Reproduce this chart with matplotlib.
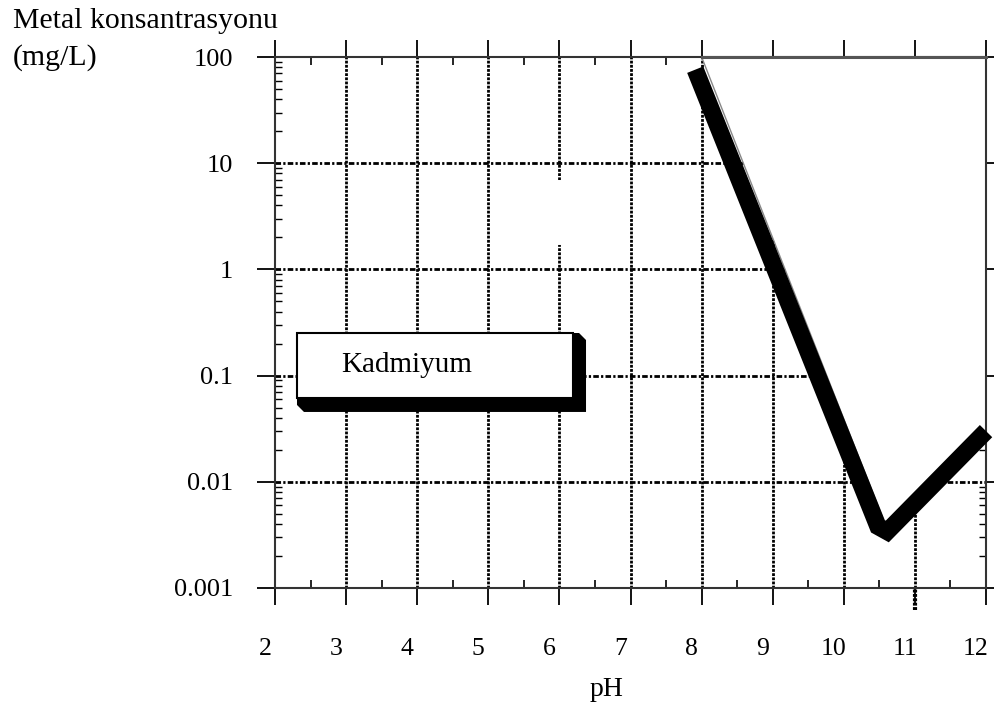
import matplotlib
matplotlib.use("Agg")
import matplotlib.pyplot as plt
import numpy as np
from matplotlib.patches import Polygon, Rectangle
from matplotlib.ticker import LogLocator, NullFormatter
from matplotlib.transforms import ScaledTranslation, blended_transform_factory

# axis ticks
ph_ticks = [2, 3, 4, 5, 6, 7, 8, 9, 10, 11, 12]
conc_ticks = [0.001, 0.01, 0.1, 1, 10, 100]
conc_labels = ["0.001", "0.01", "0.1", "1", "10", "100"]

# cadmium curve
cd_ph = [7.91, 10.48, 10.61, 12.0]
cd_conc = [76, 0.0038, 0.0034, 0.030]

# blank (white) region above the curve
region_ph = [8.0, 10.58, 12.0, 12.0]
region_conc = [100, 0.0040, 0.030, 100]

plt.rcParams['font.family'] = ['Liberation Serif', 'DejaVu Serif']

fig = plt.figure(figsize=(9.95, 7.09), dpi=100)
ax = fig.add_axes([0.2764, 0.1707, 0.7146, 0.7489])
ax.set_yscale('log')
ax.set_xlim(2, 12)
ax.set_ylim(0.001, 100)

# grid: dotted verticals, dash-dot horizontals
for ph in ph_ticks[1:-1]:
    ax.axvline(ph, color='black', lw=2.0, dashes=(1.0, 0.5), zorder=1)
for c in conc_ticks[1:-1]:
    ax.axhline(c, color='black', lw=2.0, dashes=(2.0, 0.8, 0.8, 0.8), zorder=1)
# gap in the pH 6 gridline and the pH 11 one running below the axis
ax.plot([6, 6], [10**0.27, 10**0.81], color='white', lw=5, zorder=1.2)
bt = blended_transform_factory(ax.transData, ax.transAxes)
ax.plot([11, 11], [-0.042, 0.0], transform=bt, clip_on=False,
        color='black', lw=3, dashes=(0.7, 0.35), zorder=1)

region = Polygon(np.column_stack([region_ph, region_conc]), closed=True,
                 facecolor='white', edgecolor='#888888', lw=1.0, zorder=2)
ax.add_patch(region)
# heavier grey edge along the top of the blank region
ax.plot([region_ph[0], region_ph[-1]], [region_conc[0], region_conc[-1]],
        color='#555555', lw=2.2, zorder=2.6, clip_on=False)

ax.plot(cd_ph, cd_conc, color='black', lw=12.5, solid_capstyle='butt',
        solid_joinstyle='miter', zorder=3, clip_on=False)

# "Kadmiyum" box with a black drop shadow
shadow = Polygon([(0.0309, 0.3578), (0.0309, 0.3447), (0.0407, 0.3315),
                  (0.4374, 0.3315), (0.4374, 0.4670), (0.4276, 0.4802),
                  (0.419, 0.4802)], closed=True, transform=ax.transAxes,
                 facecolor='black', edgecolor='black', lw=0, zorder=4)
ax.add_patch(shadow)
ax.add_patch(Rectangle((0.0309, 0.3578), 0.3881, 0.1224, transform=ax.transAxes,
                       facecolor='white', edgecolor='black', lw=1.5, zorder=5))
ax.text(0.0928, 0.4068, "Kadmiyum", transform=ax.transAxes, fontsize=21,
        ha='left', va='baseline', zorder=6)

# ticks
ax.set_xticks(ph_ticks)
ax.set_xticklabels([str(p) for p in ph_ticks])
ax.set_xticks(np.arange(2.5, 12, 1), minor=True)
ax.tick_params(axis='x', which='major', direction='out', length=12, width=1.3,
               top=True, bottom=True, pad=24, labelsize=18.5)
ax.tick_params(axis='x', which='minor', direction='in', length=6, width=1.2,
               top=True, bottom=True)
ax.set_yticks(conc_ticks)
ax.set_yticklabels(conc_labels)
ax.yaxis.set_minor_locator(LogLocator(base=10, subs=np.arange(2, 10)))
ax.yaxis.set_minor_formatter(NullFormatter())
ax.tick_params(axis='y', which='major', direction='out', length=13, width=1.3,
               left=True, right=True, pad=17, labelsize=19)
ax.tick_params(axis='y', which='minor', direction='in', length=5, width=1,
               left=True, right=True)

shift = ScaledTranslation(-0.1, 0, fig.dpi_scale_trans)
for lbl in ax.get_xticklabels():
    lbl.set_transform(lbl.get_transform() + shift)

for sp in ax.spines.values():
    sp.set_color('#333333')
    sp.set_linewidth(1.5)

ax.set_xlabel("pH", fontsize=20)
ax.xaxis.set_label_coords(0.466, -0.192)
ax.xaxis.label.set_va('center')

fig.text(13 / 995, 1 - 28 / 709, "Metal konsantrasyonu", fontsize=21.5,
         ha='left', va='baseline')
fig.text(13 / 995, 1 - 65 / 709, "(mg/L)", fontsize=21.5,
         ha='left', va='baseline')

fig.savefig("out.png", dpi=100)
